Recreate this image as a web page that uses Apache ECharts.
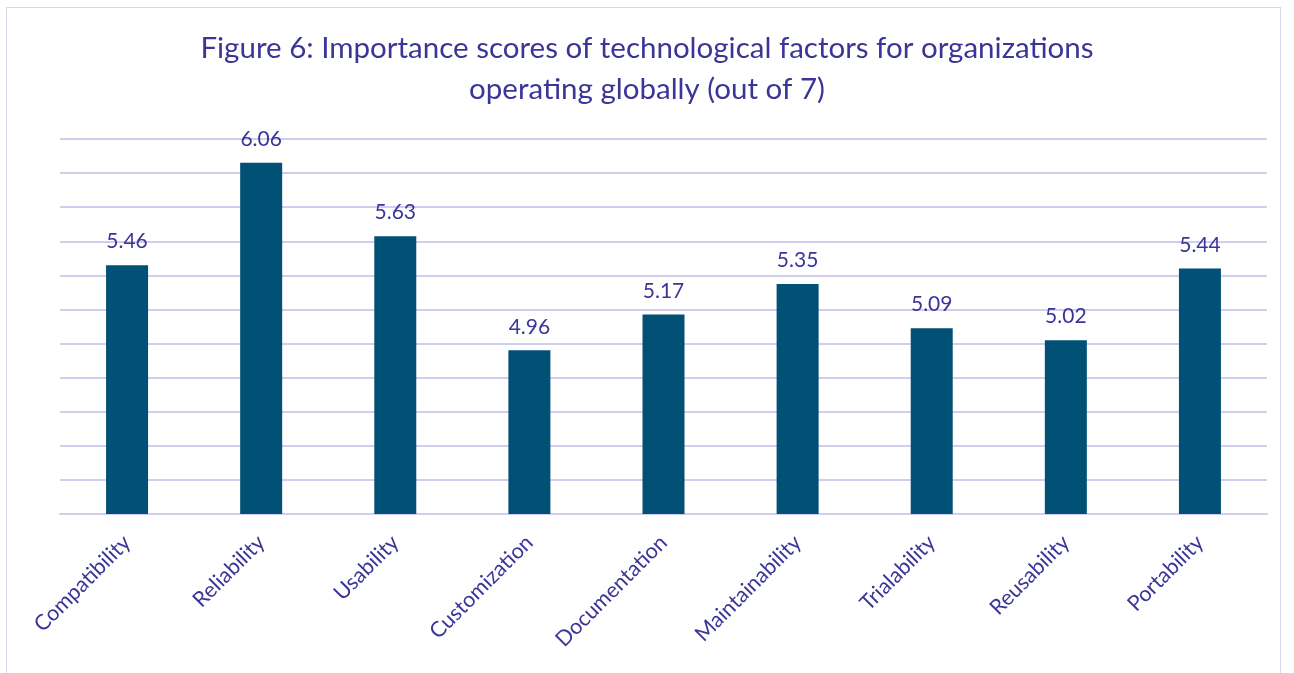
<!DOCTYPE html>
<html><head><meta charset="utf-8">
<script src="https://cdn.jsdelivr.net/npm/echarts@6/dist/echarts.min.js"></script>
<style>
html,body{margin:0;padding:0;background:#fff;}
#frame{position:absolute;left:6px;top:7px;width:1275px;height:680px;border:1px solid #d9d6ee;box-sizing:border-box;}
#chart{position:absolute;left:0;top:0;width:1294px;height:673px;}
</style></head>
<body>
<div id="frame"></div>
<div id="chart"></div>
<script>
var categories = ["Compatibility","Reliability","Usability","Customization","Documentation","Maintainability","Trialability","Reusability","Portability"];
var scores = [5.46, 6.06, 5.63, 4.96, 5.17, 5.35, 5.09, 5.02, 5.44];
var titleText = "Figure 6: Importance scores of technological factors for organizations\noperating globally (out of 7)";

var textColor = "#3b3598";
var chart = echarts.init(document.getElementById('chart'), null, {renderer:'canvas'});
chart.setOption({
  backgroundColor: 'transparent',
  animation: false,
  title: {
    text: titleText,
    left: 'center',
    top: 23,
    textStyle: {fontFamily: 'Lato', fontWeight: 'normal', fontSize: 29.5, color: textColor, lineHeight: 41}
  },
  grid: {left: 60, right: 27, top: 139, bottom: 159, containLabel: false},
  xAxis: {
    type: 'category',
    data: categories,
    axisLine: {lineStyle: {color: '#d0cdee', width: 2}},
    axisTick: {show: false},
    axisLabel: {rotate: 45, fontFamily: 'Lato', fontSize: 21.5, color: textColor, margin: 25, interval: 0}
  },
  yAxis: {
    type: 'value',
    min: 4, max: 6.2, interval: 0.2,
    axisLabel: {show: false},
    axisLine: {show: false},
    axisTick: {show: false},
    splitLine: {lineStyle: {color: '#d0cdee', width: 2}}
  },
  series: [{
    type: 'bar',
    data: scores,
    barWidth: 42,
    itemStyle: {color: '#005175'},
    label: {show: true, position: 'top', distance: 13, fontFamily: 'Lato', fontSize: 21, color: textColor,
      formatter: function(p){ return p.value.toFixed(2); }}
  }]
});
</script>
</body></html>
